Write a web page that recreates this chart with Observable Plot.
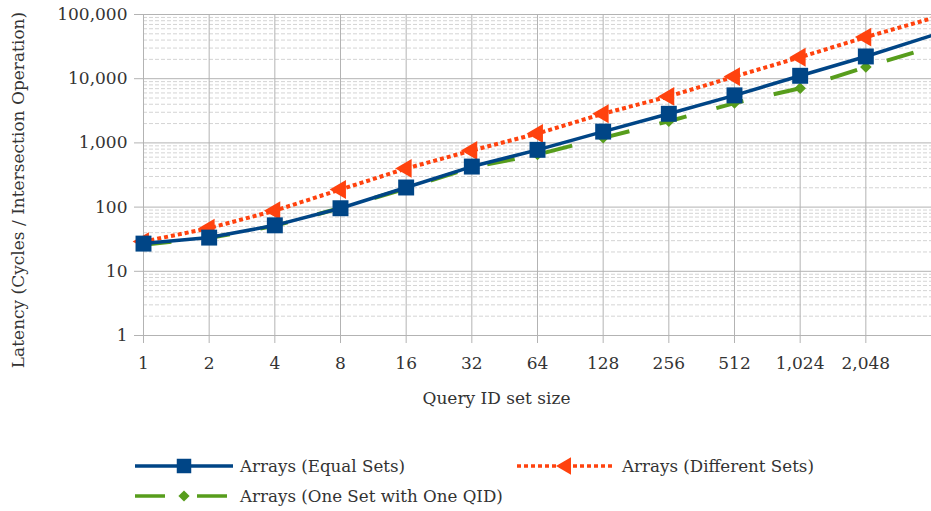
<!DOCTYPE html>
<html><head><meta charset="utf-8">
<script src="https://cdn.jsdelivr.net/npm/d3@7"></script>
<script src="https://cdn.jsdelivr.net/npm/@observablehq/plot@0.6"></script>
<style>
body{margin:0;background:#fff;}
#chart{width:931px;height:511px;overflow:hidden;}
#chart svg{display:block;}
</style></head><body><div id="chart"></div>
<script>
const sizes = [1, 2, 4, 8, 16, 32, 64, 128, 256, 512, 1024, 2048, 4096];
const tickSizes = [1, 2, 4, 8, 16, 32, 64, 128, 256, 512, 1024, 2048];
const yTicks = [1, 10, 100, 1000, 10000, 100000];
const equalSets = [27, 33.5, 52, 96, 202, 428, 780, 1500, 2840, 5500, 11100, 22200, 47000];
const differentSets = [29, 47, 88, 188, 400, 760, 1400, 2850, 5300, 10800, 21600, 44500, 87000];
const oneSetOneQid = [26, 33, 51, 97, 195, 415, 660, 1200, 2170, 4170, 7100, 15200, 31000];
const seriesNames = ["Arrays (Equal Sets)", "Arrays (Different Sets)", "Arrays (One Set with One QID)"];
const colors = {equal: "#004586", different: "#ff420e", one: "#579d1c"};
const xTitle = "Query ID set size";
const yTitle = "Latency (Cycles / Intersection Operation)";

const rows = vals => sizes.map((s, i) => ({x: s, y: vals[i]}));
const markerRows = vals => rows(vals).filter(d => tickSizes.includes(d.x));
const minor = yTicks.slice(0, -1).flatMap(d => [2,3,4,5,6,7,8,9].map(k => k * d));
const font = "DejaVu Serif";

const plot = Plot.plot({
  width: 931, height: 440,
  marginLeft: 143, marginRight: 0, marginTop: 14, marginBottom: 105,
  style: {fontFamily: font, fontSize: "17px", color: "#333", background: "#fff", overflow: "visible"},
  x: {type: "log", base: 2, domain: [1, 4096]},
  y: {type: "log", domain: [1, 100000]},
  marks: [
    Plot.ruleY(minor, {stroke: "#d4d4d4", strokeDasharray: "4,2", strokeWidth: 1}),
    Plot.ruleY(yTicks, {stroke: "#b3b3b3", strokeWidth: 1}),
    Plot.ruleX(tickSizes, {stroke: "#b3b3b3", strokeWidth: 1}),
    Plot.axisX({ticks: tickSizes, tickFormat: d3.format(","), tickSize: 8, tickPadding: 13, stroke: "#b3b3b3", fill: "#333", label: null, fontSize: 17}),
    Plot.axisY({ticks: yTicks, tickFormat: d3.format(","), tickSize: 9, tickPadding: 7, stroke: "#b3b3b3", fill: "#333", label: null, fontSize: 17}),
    Plot.text([xTitle], {frameAnchor: "bottom", dx: -41, dy: 68, fill: "#333", fontSize: 17}),
    Plot.text([yTitle], {frameAnchor: "left", textAnchor: "middle", dx: -125, dy: 15, rotate: -90, fill: "#333", fontSize: 17}),
    Plot.line(rows(oneSetOneQid), {x: "x", y: "y", stroke: colors.one, strokeWidth: 4, strokeDasharray: "28,31", strokeLinecap: "butt", strokeLinejoin: "miter"}),
    Plot.dot(markerRows(oneSetOneQid), {x: "x", y: "y", symbol: "diamond2", r: 5.2, fill: colors.one, stroke: "none"}),
    Plot.line(rows(differentSets), {x: "x", y: "y", stroke: colors.different, strokeWidth: 4, strokeDasharray: "4,3", strokeLinecap: "butt", strokeLinejoin: "miter"}),
    Plot.dot(markerRows(differentSets), {x: "x", y: "y", symbol: "triangle", rotate: -90, r: 7, fill: colors.different, stroke: "none"}),
    Plot.line(rows(equalSets), {x: "x", y: "y", stroke: colors.equal, strokeWidth: 3.5}),
    Plot.dot(markerRows(equalSets), {x: "x", y: "y", symbol: "square", r: 9, fill: colors.equal, stroke: "none"})
  ]
});
document.getElementById("chart").appendChild(plot);

// Legend below the chart
const leg = d3.select("#chart").append("svg").attr("width", 931).attr("height", 71)
  .style("font-family", font).style("font-size", "16.7px");
const items = [
  {name: seriesNames[0], color: colors.equal, x: 135, y: 26, dash: null, sym: d3.symbolSquare, size: 210, rot: 0},
  {name: seriesNames[1], color: colors.different, x: 517, y: 26, dash: "4,3", sym: d3.symbolTriangle, size: 130, rot: -90},
  {name: seriesNames[2], color: colors.one, x: 135, y: 56, dash: "30,32", sym: d3.symbolDiamond2, size: 80, rot: 0}
];
for (const it of items) {
  const g = leg.append("g").attr("transform", `translate(${it.x},${it.y})`);
  g.append("line").attr("x1", 0).attr("x2", 98).attr("y1", 0).attr("y2", 0)
    .attr("stroke", it.color).attr("stroke-width", 3.5).attr("stroke-dasharray", it.dash);
  g.append("path").attr("d", d3.symbol(it.sym, it.size)())
    .attr("transform", `translate(49,0) rotate(${it.rot})`).attr("fill", it.color);
  g.append("text").attr("x", 105).attr("y", 0).attr("dy", "0.35em").attr("fill", "#333").text(it.name);
}
</script></body></html>
